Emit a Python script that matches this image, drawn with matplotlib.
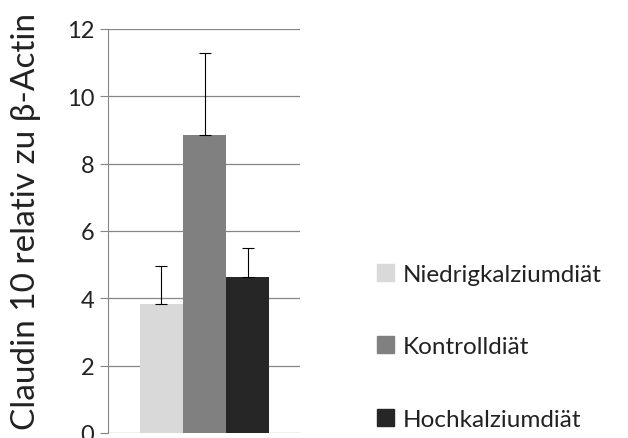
import matplotlib.pyplot as plt
from matplotlib.patches import Patch

# data
gruppen = ['Niedrigkalziumdiät', 'Kontrolldiät', 'Hochkalziumdiät']
werte = [3.83, 8.85, 4.62]
fehler = [1.12, 2.44, 0.87]
farben = ['#d9d9d9', '#808080', '#262626']

plt.rcParams['font.family'] = ['Lato', 'DejaVu Sans']

fig = plt.figure(figsize=(6.28, 4.39), dpi=100)
ax = fig.add_axes([0.172, 0.0114, 0.306, 0.9203])

x = range(len(werte))
for i in x:
    ax.bar(i, werte[i], width=1.0, color=farben[i], zorder=2)
    ax.errorbar(i, werte[i], yerr=[[0], [fehler[i]]], fmt='none',
                ecolor='black', elinewidth=0.8, capsize=4, capthick=0.8, zorder=3)

ax.set_xlim(-1.24, 3.22)
ax.set_ylim(0, 12)
ax.set_yticks([0, 2, 4, 6, 8, 10, 12])
ax.set_xticks([])
ax.yaxis.grid(True, color='#868686', linewidth=0.9, zorder=0)
for s in ['top', 'right', 'bottom']:
    ax.spines[s].set_visible(False)
ax.spines['left'].set_color('#868686')
ax.tick_params(axis='y', length=6, color='#868686', labelsize=17, labelcolor='#222222', pad=4)
ax.set_ylabel('Claudin 10 relativ zu β-Actin', fontsize=24, color='#222222')
ax.yaxis.set_label_coords(-0.35, 0.525)

handles = [Patch(color=farben[i], label=gruppen[i]) for i in x]
fig.legend(handles=handles, loc='upper left', bbox_to_anchor=(0.566, 0.447),
           frameon=False, fontsize=17.5, labelspacing=2.13, handlelength=0.7,
           handleheight=0.7, handletextpad=0.35, labelcolor='#222222')

fig.savefig('out.png', dpi=100)
